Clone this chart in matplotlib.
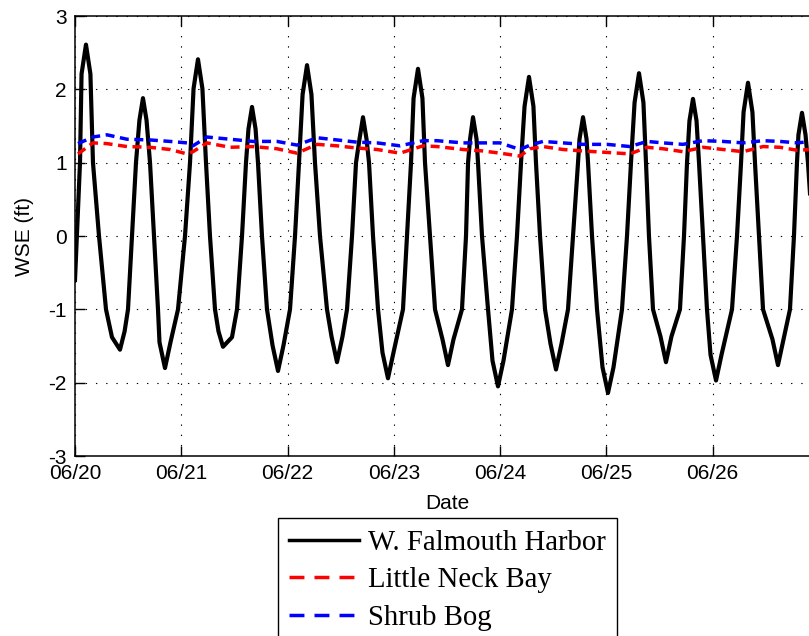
import pandas as pd
import matplotlib
matplotlib.use('Agg')
import matplotlib.pyplot as plt
import matplotlib.dates as mdates

START = pd.Timestamp('2012-06-20')

# W. Falmouth Harbor WSE (ft), hours after 06/20 00:00
harbor_hours = [0.0, 1.13, 1.48, 2.48, 3.48, 4.06, 5.42, 7.00, 8.35, 10.16,
                11.2, 11.97, 12.87, 13.77, 14.55, 15.35, 16.15, 16.94, 17.84, 18.74,
                19.08, 20.32, 21.56, 23.26, 24.84, 25.97, 26.77, 27.77, 28.77, 29.58,
                30.48, 31.61, 32.4, 33.42, 35.45, 36.58, 37.71, 38.61, 39.17, 39.97,
                40.77, 41.32, 42.22, 43.35, 44.60, 45.84, 47.08, 48.55, 49.68, 50.58,
                51.39, 52.39, 53.39, 54.19, 55.32, 56.90, 57.92, 59.16, 60.40, 61.42,
                62.55, 63.45, 64.23, 65.03, 65.83, 66.39, 67.29, 68.42, 69.43, 70.67,
                71.91, 74.06, 74.97, 75.87, 76.45, 77.45, 78.45, 79.03, 80.16, 81.29,
                82.98, 84.22, 85.46, 87.38, 88.29, 88.75, 89.2, 89.87, 90.67, 91.00,
                91.90, 93.26, 94.27, 95.51, 96.75, 98.67, 99.80, 100.71, 101.51, 102.51,
                103.51, 104.09, 105.00, 106.13, 107.37, 108.61, 109.85, 111.32, 112.45, 113.58,
                113.91, 114.71, 115.51, 115.84, 116.74, 117.87, 119.11, 120.35, 121.59, 123.51,
                124.64, 125.54, 126.35, 127.35, 128.35, 128.93, 129.60, 130.51, 132.20, 133.44,
                134.68, 136.60, 137.51, 138.19, 138.74, 139.54, 140.34, 140.90, 141.80, 142.70,
                143.50, 144.74, 145.98, 148.35, 149.48, 150.39, 150.96, 151.96, 152.96, 153.54,
                154.44, 155.35, 157.49, 158.73, 159.97, 161.44, 162.34, 163.02, 163.35, 164.15,
                164.95, 165.5, 166.6]
harbor_wse = [-0.6, 1.0, 2.21, 2.61, 2.21, 1.0, 0.0, -1.0, -1.38, -1.55,
              -1.3, -1.0, 0.0, 1.0, 1.58, 1.88, 1.58, 1.0, 0.0, -1.0,
              -1.45, -1.80, -1.45, -1.0, 0.0, 1.0, 2.01, 2.41, 2.01, 1.0,
              0.0, -1.0, -1.3, -1.51, -1.38, -1.0, 0.0, 1.0, 1.46, 1.76,
              1.46, 1.0, 0.0, -1.0, -1.49, -1.84, -1.49, -1.0, 0.0, 1.0,
              1.93, 2.33, 1.93, 1.0, 0.0, -1.0, -1.37, -1.72, -1.37, -1.0,
              0.0, 1.0, 1.32, 1.62, 1.32, 1.0, 0.0, -1.0, -1.59, -1.94,
              -1.59, -1.0, 0.0, 1.0, 1.88, 2.28, 1.88, 1.0, 0.0, -1.0,
              -1.41, -1.76, -1.41, -1.0, 0.0, 1.0, 1.32, 1.62, 1.32, 1.0,
              0.0, -1.0, -1.70, -2.05, -1.70, -1.0, 0.0, 1.0, 1.77, 2.17,
              1.77, 1.0, 0.0, -1.0, -1.47, -1.82, -1.47, -1.0, 0.0, 1.0,
              1.32, 1.62, 1.32, 1.0, 0.0, -1.0, -1.79, -2.14, -1.79, -1.0,
              0.0, 1.0, 1.82, 2.22, 1.82, 1.0, 0.0, -1.0, -1.37, -1.72,
              -1.37, -1.0, 0.0, 1.0, 1.57, 1.87, 1.57, 1.0, 0.0, -1.0,
              -1.62, -1.97, -1.62, -1.0, 0.0, 1.0, 1.69, 2.09, 1.69, 1.0,
              0.0, -1.0, -1.41, -1.76, -1.41, -1.0, 0.0, 1.0, 1.38, 1.68,
              1.38, 1.0, 0.0]

# pond gauges, hours after 06/20 00:00
pond_hours = [0.68, 4.06, 7.23, 11.74, 16.94, 21.45, 25.29, 26.64, 29.81, 35.00,
              40.19, 45.61, 50.13, 54.65, 59.16, 63.68, 68.19, 73.39, 78.58, 81.74,
              87.61, 92.13, 95.97, 100.48, 102.74, 105.67, 110.19, 114.71, 120.13, 125.32,
              129.16, 132.77, 137.29, 141.80, 146.32, 150.84, 155.35, 159.19, 163.03, 166.41]
neck_wse = [1.12, 1.27, 1.26, 1.22, 1.21, 1.18, 1.12, 1.15, 1.27, 1.21,
            1.22, 1.19, 1.13, 1.25, 1.23, 1.20, 1.18, 1.13, 1.23, 1.22,
            1.18, 1.16, 1.13, 1.09, 1.19, 1.22, 1.18, 1.16, 1.14, 1.12,
            1.21, 1.19, 1.15, 1.21, 1.18, 1.15, 1.22, 1.21, 1.17, 1.18]
shrub_wse = [1.26, 1.35, 1.38, 1.32, 1.31, 1.29, 1.27, 1.23, 1.35, 1.32,
             1.29, 1.29, 1.24, 1.34, 1.31, 1.28, 1.27, 1.23, 1.30, 1.30,
             1.27, 1.27, 1.27, 1.18, 1.24, 1.29, 1.27, 1.25, 1.25, 1.22,
             1.29, 1.27, 1.25, 1.30, 1.29, 1.27, 1.30, 1.29, 1.27, 1.29]

labels = ['W. Falmouth Harbor', 'Little Neck Bay', 'Shrub Bog']
day_ticks = ['06/20', '06/21', '06/22', '06/23', '06/24', '06/25', '06/26']
x_end = '06/27'


def main():
    plt.rcParams['font.family'] = ['Liberation Sans', 'DejaVu Sans']
    plt.rcParams['axes.unicode_minus'] = False
    fig = plt.figure(figsize=(8.09, 6.36), dpi=100)
    # right edge of the axes runs past the figure, like the cropped original
    ax = fig.add_axes([0.0927, 0.283, 0.9197, 0.6918])

    t_h = START + pd.to_timedelta(harbor_hours, unit='h')
    t_p = START + pd.to_timedelta(pond_hours, unit='h')

    l1, = ax.plot(t_h, harbor_wse, color='black', lw=3.0,
                  solid_joinstyle='round')
    l2, = ax.plot(t_p, neck_wse, color='red', lw=2.5, dashes=(2.6, 1.6))
    l3, = ax.plot(t_p, shrub_wse, color='blue', lw=2.5, dashes=(2.6, 1.6))

    ticks = [pd.Timestamp('2012/' + d) for d in day_ticks]
    ax.set_xlim(ticks[0], pd.Timestamp('2012/' + x_end))
    ax.set_xticks(ticks)
    ax.xaxis.set_major_formatter(mdates.DateFormatter('%m/%d'))
    ax.set_ylim(-3, 3)
    ax.set_yticks(range(-3, 4))

    ax.grid(True, color='black', lw=0.8, dashes=(1.2, 8))
    ax.tick_params(direction='in', length=7, width=1, top=True, right=True,
                   labelsize=15, pad=6)
    for s in ax.spines.values():
        s.set_linewidth(1.1)

    ax.set_xlabel('Date', fontsize=15, labelpad=8)
    ax.set_ylabel('WSE (ft)', fontsize=15, labelpad=10)

    # legend hangs off the bottom of the figure, as in the original
    leg = fig.legend([l1, l2, l3], labels, loc='upper left',
                     bbox_to_anchor=(0.3436, 0.1855), borderaxespad=0,
                     prop={'family': 'Liberation Serif', 'size': 20.7},
                     handlelength=2.42, handletextpad=0.3, labelspacing=0.4,
                     borderpad=0.4, fancybox=False, framealpha=1,
                     edgecolor='black')
    leg.get_frame().set_linewidth(1.0)
    hl = leg.get_lines()
    hl[0].set_linewidth(2.5)
    for h in hl[1:]:
        h.set_linewidth(2.5)
        h.set_dashes((4.3, 2.9))

    fig.savefig('out.png', dpi=100)


if __name__ == '__main__':
    main()
